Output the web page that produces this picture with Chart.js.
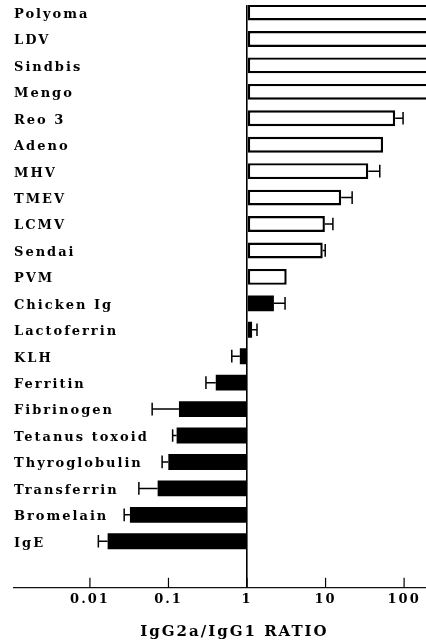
<!DOCTYPE html>
<html lang="en">

<head>
  <meta charset="UTF-8">
  <title>IgG2a/IgG1 ratio by antigen</title>
  <script src="https://cdn.jsdelivr.net/npm/chart.js"></script>
  <style>
    body {
      margin: 0;
      background: #fff;
    }

    .wrap {
      width: 426px;
      height: 644px;
    }
  </style>
</head>

<body>
  <div class="wrap">
    <canvas id="myChart" width="426" height="644"></canvas>
  </div>

  <script>
    // antigens, top to bottom
    const antigens = ['Polyoma', 'LDV', 'Sindbis', 'Mengo', 'Reo 3', 'Adeno', 'MHV', 'TMEV', 'LCMV', 'Sendai', 'PVM',
      'Chicken Ig', 'Lactoferrin', 'KLH', 'Ferritin', 'Fibrinogen', 'Tetanus toxoid', 'Thyroglobulin',
      'Transferrin', 'Bromelain', 'IgE'];
    // IgG2a/IgG1 ratio (first four run off the scale)
    const ratios = [1000, 1000, 1000, 1000, 77, 54, 35, 15.8, 9.8, 9.2, 3.2,
      2.2, 1.16, 0.81, 0.40, 0.136, 0.127, 0.0996, 0.0728, 0.0323, 0.0168];
    // end of the error bar (null = none drawn)
    const errorEnds = [null, null, null, null, 97, null, 49, 21.8, 12.4, 9.9, null,
      3.05, 1.34, 0.64, 0.30, 0.062, 0.113, 0.083, 0.042, 0.0273, 0.0128];
    // viral antigens are drawn as open bars
    const isVirus = [true, true, true, true, true, true, true, true, true, true, true,
      false, false, false, false, false, false, false, false, false, false];
    const xTicks = [0.01, 0.1, 1, 10, 100];

    const FONT = "'DejaVu Serif', serif";

    // the figure uses a wide, spaced-out face
    const spacingPlugin = {
      id: 'spacing',
      beforeDraw(chart) {
        chart.ctx.letterSpacing = '2px';
      }
    };

    // short tick marks pointing up from the x axis
    const upTicksPlugin = {
      id: 'upTicks',
      afterDraw(chart) {
        const ctx = chart.ctx;
        const xScale = chart.scales.x;
        const yb = chart.chartArea.bottom;
        ctx.save();
        ctx.strokeStyle = '#000';
        ctx.lineWidth = 1.2;
        xScale.ticks.forEach(t => {
          const x = xScale.getPixelForValue(t.value);
          ctx.beginPath();
          ctx.moveTo(x, yb);
          ctx.lineTo(x, yb - 10);
          ctx.stroke();
        });
        ctx.restore();
      }
    };

    const errorBarPlugin = {
      id: 'errorBars',
      afterDatasetsDraw(chart) {
        const ctx = chart.ctx;
        const xScale = chart.scales.x;
        const meta = chart.getDatasetMeta(0);
        ctx.save();
        ctx.strokeStyle = '#000';
        ctx.lineWidth = 1.5;
        meta.data.forEach((bar, i) => {
          const end = errorEnds[i];
          if (end == null) return;
          const xe = xScale.getPixelForValue(end);
          const half = bar.height * 0.4;
          ctx.beginPath();
          ctx.moveTo(bar.x, bar.y);
          ctx.lineTo(xe, bar.y);
          ctx.moveTo(xe, bar.y - half);
          ctx.lineTo(xe, bar.y + half);
          ctx.stroke();
        });
        ctx.restore();
      }
    };

    const ctx = document.getElementById('myChart').getContext('2d');

    new Chart(ctx, {
      type: 'bar',
      data: {
        datasets: [{
          data: ratios.map((v, i) => ({ x: v, y: i })),
          base: 1,
          backgroundColor: isVirus.map(v => v ? '#fff' : '#000'),
          borderColor: '#000',
          borderWidth: isVirus.map(v => v ? 2.4 : 0),
          borderSkipped: false,
          barPercentage: 0.6,
          categoryPercentage: 1,
        }]
      },
      options: {
        indexAxis: 'y',
        responsive: false,
        animation: false,
        layout: {
          padding: { left: 14, top: 5, right: 0, bottom: 0 }
        },
        plugins: {
          legend: { display: false },
          tooltip: { enabled: false }
        },
        scales: {
          x: {
            type: 'logarithmic',
            min: 0.00108,
            max: 190,
            afterBuildTicks: (scale) => {
              scale.ticks = xTicks.map(v => ({ value: v }));
            },
            border: { display: true, color: '#111', width: 1.2 },
            grid: {
              color: (c) => (c.tick && c.tick.value === 1 ? '#000' : 'rgba(0,0,0,0)'),
              lineWidth: 1.6,
              drawTicks: false
            },
            ticks: {
              color: '#000',
              padding: 4.2,
              font: { family: FONT, size: 13, weight: 'bold', lineHeight: 1.2 },
              maxRotation: 0,
              callback: (v) => String(v)
            },
            title: {
              display: true,
              text: '    IgG2a/IgG1 RATIO',
              color: '#000',
              font: { family: FONT, size: 15, weight: 'bold', lineHeight: 1.2 },
              padding: { top: 11.2, bottom: 3 }
            }
          },
          y: {
            type: 'linear',
            reverse: true,
            offset: false,
            min: -0.284,
            max: 21.76,
            afterBuildTicks: (scale) => {
              scale.ticks = antigens.map((a, i) => ({ value: i }));
            },
            border: { display: false },
            grid: { display: false, drawTicks: false },
            ticks: {
              mirror: true,
              padding: 0,
              labelOffset: 2,
              color: '#000',
              autoSkip: false,
              font: { family: FONT, size: 13, weight: 'bold', lineHeight: 0.7 },
              callback: (v) => antigens[v] ?? ''
            }
          }
        }
      },
      plugins: [spacingPlugin, upTicksPlugin, errorBarPlugin]
    });
  </script>

</body>

</html>
